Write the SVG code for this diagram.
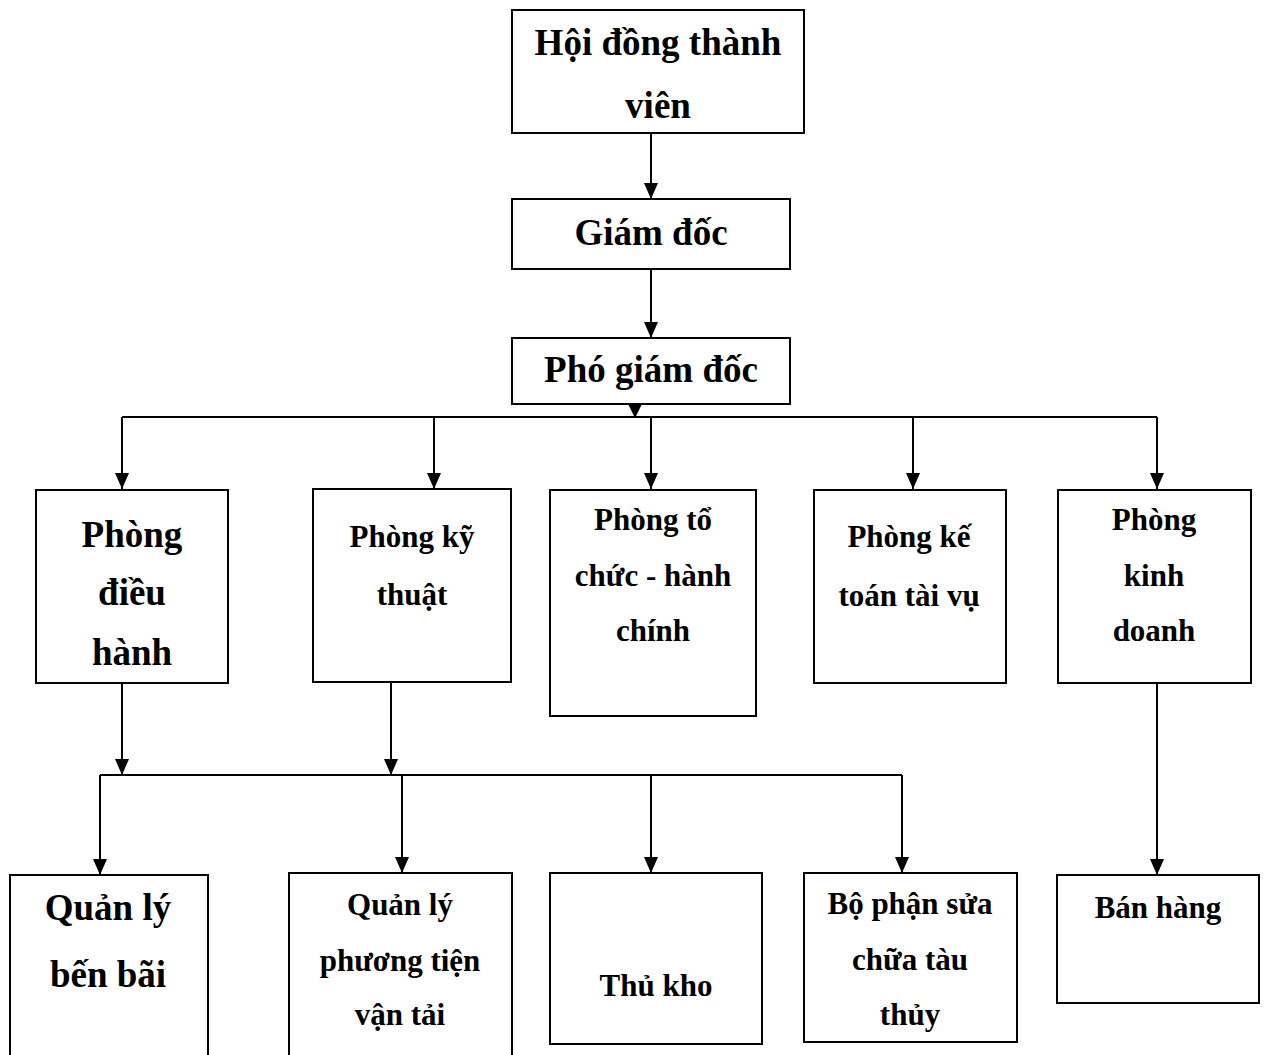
<svg xmlns="http://www.w3.org/2000/svg" width="1265" height="1055" viewBox="0 0 1265 1055">
<style>
.box{fill:#fff;stroke:#000;stroke-width:2}
.c{fill:none;stroke:#000;stroke-width:2}
text{font-family:"Liberation Serif","Times New Roman",serif;font-weight:bold;fill:#000;text-anchor:middle}
.l{font-size:37px}
.m{font-size:31px}
</style>
<defs>
<marker id="ah" markerUnits="userSpaceOnUse" markerWidth="16" markerHeight="14" refX="16" refY="7" orient="auto">
<path d="M0,0 L16,7 L0,14 z" fill="#000"/>
</marker>
</defs>
<rect width="1265" height="1055" fill="#fff"/>
<g id="connectors">
<line class="c" x1="651" y1="133" x2="651" y2="199" marker-end="url(#ah)"/>
<line class="c" x1="651" y1="269" x2="651" y2="338" marker-end="url(#ah)"/>
<path d="M628,404 L642,404 L635,418 z" fill="#000"/>
<line class="c" x1="122" y1="417" x2="1157" y2="417"/>
<line class="c" x1="122" y1="417" x2="122" y2="489" marker-end="url(#ah)"/>
<line class="c" x1="434" y1="417" x2="434" y2="489" marker-end="url(#ah)"/>
<line class="c" x1="651" y1="417" x2="651" y2="489" marker-end="url(#ah)"/>
<line class="c" x1="913" y1="417" x2="913" y2="489" marker-end="url(#ah)"/>
<line class="c" x1="1157" y1="417" x2="1157" y2="489" marker-end="url(#ah)"/>
<line class="c" x1="122" y1="683" x2="122" y2="775" marker-end="url(#ah)"/>
<line class="c" x1="391" y1="682" x2="391" y2="775" marker-end="url(#ah)"/>
<line class="c" x1="100" y1="775" x2="902" y2="775"/>
<line class="c" x1="100" y1="775" x2="100" y2="875" marker-end="url(#ah)"/>
<line class="c" x1="402" y1="775" x2="402" y2="873" marker-end="url(#ah)"/>
<line class="c" x1="651" y1="775" x2="651" y2="873" marker-end="url(#ah)"/>
<line class="c" x1="902" y1="775" x2="902" y2="873" marker-end="url(#ah)"/>
<line class="c" x1="1157" y1="683" x2="1157" y2="875" marker-end="url(#ah)"/>
</g>
<g id="hdtv"><rect class="box" x="512" y="10" width="292" height="123"/><text class="l" x="658" y="55">Hội đồng thành</text><text class="l" x="658" y="118">viên</text></g>
<g id="giamdoc"><rect class="box" x="512" y="199" width="278" height="70"/><text class="l" x="651" y="245">Giám đốc</text></g>
<g id="phogiamdoc"><rect class="box" x="512" y="338" width="278" height="66"/><text class="l" x="651" y="382">Phó giám đốc</text></g>
<g id="dieuhanh"><rect class="box" x="36" y="490" width="192" height="193"/><text class="l" x="132" y="547">Phòng</text><text class="l" x="132" y="605">điều</text><text class="l" x="132" y="665">hành</text></g>
<g id="kythuat"><rect class="box" x="313" y="489" width="198" height="193"/><text class="m" x="412" y="547">Phòng kỹ</text><text class="m" x="412" y="605">thuật</text></g>
<g id="tochuc"><rect class="box" x="550" y="490" width="206" height="226"/><text class="m" x="653" y="530">Phòng tổ</text><text class="m" x="653" y="586">chức - hành</text><text class="m" x="653" y="641">chính</text></g>
<g id="ketoan"><rect class="box" x="814" y="490" width="192" height="193"/><text class="m" x="909" y="547">Phòng kế</text><text class="m" x="909" y="606">toán tài vụ</text></g>
<g id="kinhdoanh"><rect class="box" x="1058" y="490" width="193" height="193"/><text class="m" x="1154" y="530">Phòng</text><text class="m" x="1154" y="586">kinh</text><text class="m" x="1154" y="641">doanh</text></g>
<g id="benbai"><rect class="box" x="10" y="875" width="198" height="190"/><text class="l" x="108" y="920">Quản lý</text><text class="l" x="108" y="987">bến bãi</text></g>
<g id="phuongtien"><rect class="box" x="289" y="873" width="223" height="192"/><text class="m" x="400" y="915">Quản lý</text><text class="m" x="400" y="971">phương tiện</text><text class="m" x="400" y="1025">vận tải</text></g>
<g id="thukho"><rect class="box" x="550" y="873" width="212" height="171"/><text class="m" x="656" y="996">Thủ kho</text></g>
<g id="suachua"><rect class="box" x="804" y="873" width="213" height="169"/><text class="m" x="910" y="914">Bộ phận sửa</text><text class="m" x="910" y="970">chữa tàu</text><text class="m" x="910" y="1025">thủy</text></g>
<g id="banhang"><rect class="box" x="1057" y="875" width="202" height="128"/><text class="m" x="1158" y="918">Bán hàng</text></g>
</svg>
